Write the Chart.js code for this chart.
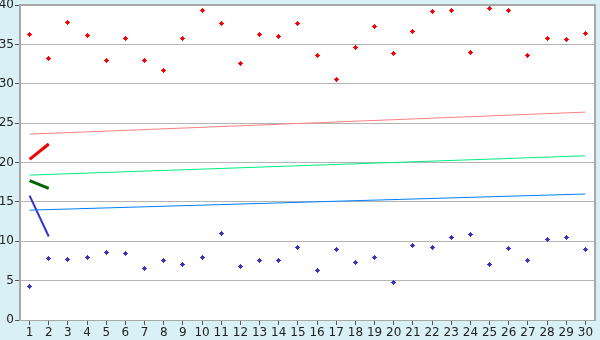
<!DOCTYPE html>
<html>
<head>
<meta charset="utf-8">
<script src="https://cdn.jsdelivr.net/npm/chart.js@4.4.1/dist/chart.umd.min.js"></script>
<style>
  html, body { margin: 0; padding: 0; background: #D9F0F7; }
  #wrap { width: 600px; height: 340px; }
</style>
</head>
<body>
<div id="wrap"><canvas id="chart" width="600" height="340"></canvas></div>
<script>
const DAYS = [1, 2, 3, 4, 5, 6, 7, 8, 9, 10, 11, 12, 13, 14, 15, 16, 17, 18, 19, 20, 21, 22, 23, 24, 25, 26, 27, 28, 29, 30];
const Y_TICKS = [0, 5, 10, 15, 20, 25, 30, 35, 40];

const redPoints = [36.2, 33.2, 37.8, 36.1, 33.0, 35.8, 33.0, 31.7, 35.8, 39.3, 37.7, 32.6, 36.3, 36.0, 37.7, 33.6, 30.6, 34.6, 37.3, 33.9, 36.6, 39.2, 39.3, 34.0, 39.6, 39.3, 33.6, 35.8, 35.6, 36.4];
const bluePoints = [4.3, 7.8, 7.7, 8.0, 8.6, 8.5, 6.6, 7.6, 7.1, 8.0, 11.0, 6.8, 7.6, 7.6, 9.2, 6.3, 9.0, 7.3, 8.0, 4.8, 9.5, 9.2, 10.5, 10.9, 7.1, 9.1, 7.6, 10.2, 10.5, 9.0];

// trend lines: value at day 1 and day 30
const redTrend = [23.6, 26.4];
const greenTrend = [18.4, 20.85];
const blueTrend = [13.95, 16.0];

// short segments: day 1 -> day 2
const redShort = [20.4, 22.35];
const greenShort = [17.7, 16.7];
const blueShort = [15.8, 10.6];

const xy = (xs, ys) => ys.map((v, i) => ({ x: xs[i], y: v }));
const ends = [DAYS[0], DAYS[DAYS.length - 1]];

function marker(color) {
    const c = document.createElement('canvas');
    c.width = 5; c.height = 5;
    const g = c.getContext('2d');
    g.fillStyle = color;
    g.fillRect(2, 0, 1, 5);
    g.fillRect(0, 2, 5, 1);
    g.fillRect(1, 1, 3, 3);
    return c;
}

const frame = {
    id: 'frame',
    beforeDraw(chart) {
        const { ctx, chartArea: a } = chart;
        ctx.save();
        ctx.fillStyle = '#D9F0F7';
        ctx.fillRect(0, 0, chart.width, chart.height);
        ctx.fillStyle = '#FFFFFF';
        ctx.fillRect(a.left, a.top, a.right - a.left, a.bottom - a.top);
        ctx.restore();
    },
    beforeDatasetsDraw(chart) {
        chart.ctx.imageSmoothingEnabled = false;
    },
    afterDraw(chart) {
        const { ctx, chartArea: a } = chart;
        ctx.save();
        ctx.strokeStyle = '#A8A8A8';
        ctx.lineWidth = 2;
        ctx.beginPath();
        ctx.moveTo(a.left, a.top);
        ctx.lineTo(a.right, a.top);
        ctx.lineTo(a.right, a.bottom);
        ctx.stroke();
        ctx.restore();
    }
};

const lineDs = (data, color, width) => ({
    data, borderColor: color, borderWidth: width, pointRadius: 0, showLine: true, fill: false, tension: 0
});

new Chart(document.getElementById('chart'), {
    type: 'scatter',
    data: {
        datasets: [
            lineDs(xy(ends, redTrend), '#FF8080', 1),
            lineDs(xy(ends, greenTrend), '#00F080', 1),
            lineDs(xy(ends, blueTrend), '#0080FF', 1),
            lineDs(xy([1, 2], redShort), '#EE0000', 3),
            lineDs(xy([1, 2], greenShort), '#006600', 3),
            lineDs(xy([1, 2], blueShort), '#3333CC', 2),
            { data: xy(DAYS, redPoints), pointStyle: marker('#FF0000'), pointRadius: 3, showLine: false },
            { data: xy(DAYS, bluePoints), pointStyle: marker('#3535C8'), pointRadius: 3, showLine: false }
        ]
    },
    options: {
        responsive: false,
        animation: false,
        devicePixelRatio: 1,
        layout: { padding: { top: 5, right: 5, left: 0, bottom: 0 } },
        plugins: { legend: { display: false }, tooltip: { enabled: false } },
        scales: {
            x: {
                type: 'linear', min: 0.5, max: 30.5,
                afterBuildTicks: s => { s.ticks = DAYS.map(v => ({ value: v })); },
                afterFit: s => { s.height = 20; s.paddingLeft = 0; s.paddingRight = 0; },
                grid: { drawOnChartArea: false, drawTicks: true, tickLength: 5, color: '#555555' },
                border: { color: '#A8A8A8', width: 1 },
                ticks: { color: '#222', padding: 1, maxRotation: 0, autoSkip: false, font: { family: 'DejaVu Sans', size: 12 } }
            },
            y: {
                min: 0, max: 40,
                afterBuildTicks: s => { s.ticks = Y_TICKS.map(v => ({ value: v })); },
                afterFit: s => { s.width = 20; s.paddingTop = 0; s.paddingBottom = 0; },
                grid: { color: '#B4B4B4', tickLength: 5, tickColor: '#555555' },
                border: { color: '#A8A8A8', width: 2 },
                ticks: { color: '#222', padding: 1, font: { family: 'DejaVu Sans', size: 12 } }
            }
        }
    },
    plugins: [frame]
});
</script>
</body>
</html>
